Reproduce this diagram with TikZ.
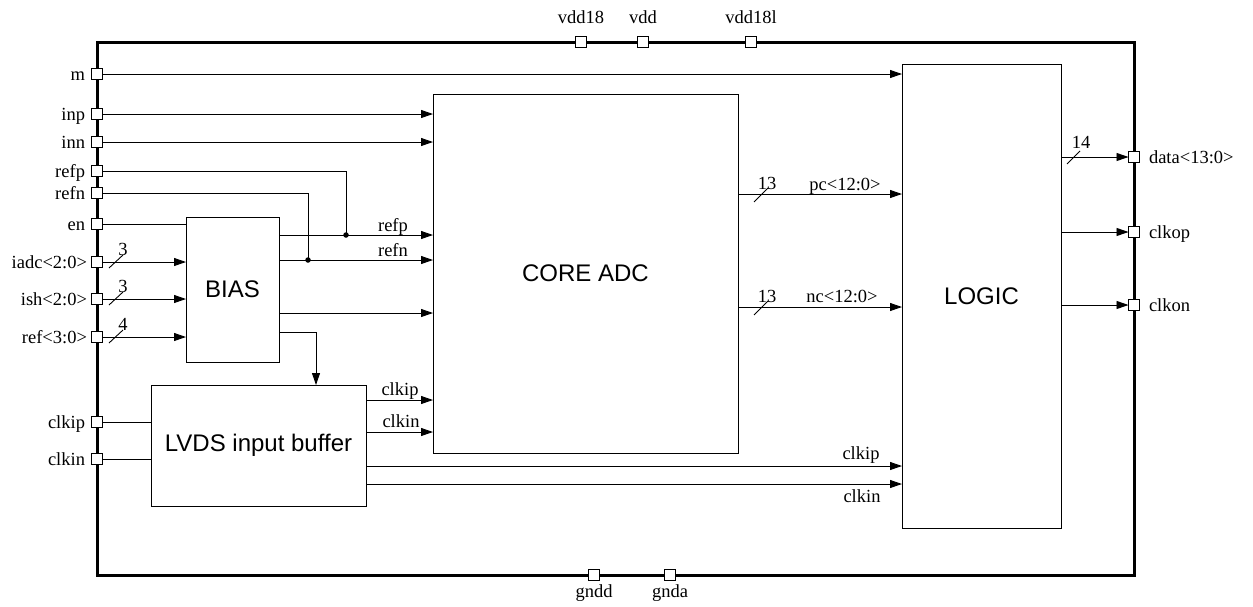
\documentclass[tikz,border=0pt]{standalone}
\usepackage{fontspec}
\setmainfont{Liberation Serif}
\newfontfamily\blkfont{Liberation Sans}
\usetikzlibrary{arrows.meta,calc}
\tikzset{
  port/.style={draw, fill=white, line width=0.9pt, minimum size=11pt, inner sep=0pt, outer sep=0pt},
  blk/.style={draw, line width=0.9pt, inner sep=0pt, outer sep=0pt, align=center, font=\blkfont\fontsize{24}{28}\selectfont},
  wire/.style={line width=0.9pt},
  arr/.style={wire, -{Triangle[length=12pt,width=8pt]}},
  lbl/.style={font=\fontsize{18.5}{20}\selectfont, inner sep=0pt, outer sep=0pt},
  lleft/.style={lbl, anchor=base east},
  lright/.style={lbl, anchor=base west},
  lmid/.style={lbl, anchor=base},
  jdot/.style={circle, fill, inner sep=0pt, minimum size=5.5pt},
}
\begin{document}
\begin{tikzpicture}[x=1pt,y=-1pt]
\useasboundingbox (0,0) rectangle (1253,606);
% chip frame
\node[draw, line width=3pt, minimum width=1037pt, minimum height=533pt, inner sep=0pt, outer sep=0pt] (chip) at (615.5,308.5) {};
% blocks
\node[blk, minimum width=93pt, minimum height=145pt] (bias) at (232.5,289.5) {BIAS};
\node[blk, minimum width=215pt, minimum height=121pt] (lvds) at (258.5,445.5) {LVDS input buffer};
\node[blk, minimum width=305pt, minimum height=359pt] (core) at (585.5,273.5) {CORE ADC};
\node[blk, minimum width=159pt, minimum height=464pt] (logic) at (981.5,296) {LOGIC};
% left ports
\node[port] (pm) at (97,74) {};
\node[port] (pinp) at (97,114) {};
\node[port] (pinn) at (97,142) {};
\node[port] (prefp) at (97,171) {};
\node[port] (prefn) at (97,193) {};
\node[port] (pen) at (97,224) {};
\node[port] (piadc) at (97,262) {};
\node[port] (pish) at (97,299) {};
\node[port] (pref) at (97,337) {};
\node[port] (pclkip) at (97,422) {};
\node[port] (pclkin) at (97,459) {};
% top / bottom ports
\node[port] (pvdd18) at (581,42) {};
\node[port] (pvdd) at (643,42) {};
\node[port] (pvdd18l) at (751,42) {};
\node[port] (pgndd) at (594,575) {};
\node[port] (pgnda) at (670,575) {};
% right ports
\node[port] (pdata) at (1134,157) {};
\node[port] (pclkop) at (1134,232) {};
\node[port] (pclkon) at (1134,305) {};
% port labels
\node[lleft] (tm) at (85,80) {m};
\node[lleft] (tinp) at (85,120) {inp};
\node[lleft] (tinn) at (85,148) {inn};
\node[lleft] (trefp) at (85,177) {refp};
\node[lleft] (trefn) at (85,199) {refn};
\node[lleft] (ten) at (85,230) {en};
\node[lleft] (tiadc) at (87,268) {iadc<2:0>};
\node[lleft] (tish) at (87,305) {ish<2:0>};
\node[lleft] (tref) at (87,343) {ref<3:0>};
\node[lleft] (tclkip) at (85,428) {clkip};
\node[lleft] (tclkin) at (85,465) {clkin};
\node[lmid] (tvdd18) at (581,23) {vdd18};
\node[lmid] (tvdd) at (643,23) {vdd};
\node[lmid] (tvdd18l) at (751,23) {vdd18l};
\node[lmid] (tgndd) at (594,597) {gndd};
\node[lmid] (tgnda) at (670,597) {gnda};
\node[lright] (tdata) at (1149,163) {data<13:0>};
\node[lright] (tclkop) at (1149,238) {clkop};
\node[lright] (tclkon) at (1149,311) {clkon};
% input wires
\draw[arr] (pm.east) -- (logic.west |- pm.east);
\draw[arr] (pinp.east) -- (core.west |- pinp.east);
\draw[arr] (pinn.east) -- (core.west |- pinn.east);
\coordinate (jp) at (346,235);
\coordinate (jn) at (308,260);
\draw[wire] (prefp.east) -| (jp);
\draw[wire] (prefn.east) -| (jn);
\node[jdot] (djp) at (jp) {};
\node[jdot] (djn) at (jn) {};
\draw[wire] (pen.east) -- (bias.west |- pen.east);
\draw[arr] (piadc.east) -- (bias.west |- piadc.east);
\draw[arr] (pish.east) -- (bias.west |- pish.east);
\draw[arr] (pref.east) -- (bias.west |- pref.east);
% bus slashes on BIAS inputs
\draw[wire] (109,268) -- (123,255);
\draw[wire] (109,305) -- (123,292);
\draw[wire] (109,343) -- (123,330);
\node[lmid] (n3a) at (123,255) {3};
\node[lmid] (n3b) at (123,292) {3};
\node[lmid] (n4) at (123,330) {4};
% BIAS outputs
\draw[arr] (bias.east |- jp) -- (core.west |- jp);
\draw[arr] (bias.east |- jn) -- (core.west |- jn);
\node[lmid] (lrefp) at (393,231) {refp};
\node[lmid] (lrefn) at (393,256) {refn};
\coordinate (b3) at (279,313);
\draw[arr] (bias.east |- b3) -- (core.west |- b3);
\coordinate (b4) at (316,332);
\draw[arr] (bias.east |- b4) -- (b4) -- (b4 |- lvds.north);
% LVDS
\draw[wire] (pclkip.east) -- (lvds.west |- pclkip.east);
\draw[wire] (pclkin.east) -- (lvds.west |- pclkin.east);
\coordinate (c1) at (366,400);
\coordinate (c2) at (366,432);
\coordinate (c3) at (366,466);
\coordinate (c4) at (366,484);
\draw[arr] (lvds.east |- c1) -- (core.west |- c1);
\draw[arr] (lvds.east |- c2) -- (core.west |- c2);
\draw[arr] (lvds.east |- c3) -- (logic.west |- c3);
\draw[arr] (lvds.east |- c4) -- (logic.west |- c4);
\node[lmid] (lc1) at (400,395) {clkip};
\node[lmid] (lc2) at (401,427) {clkin};
\node[lmid] (lc3) at (861,459) {clkip};
\node[lmid] (lc4) at (862,502) {clkin};
% CORE outputs
\coordinate (pc) at (738,194);
\coordinate (nc) at (738,307);
\draw[arr] (core.east |- pc) -- (logic.west |- pc);
\draw[arr] (core.east |- nc) -- (logic.west |- nc);
\draw[wire] (754,202) -- (768,188);
\draw[wire] (754,315) -- (768,301);
\node[lmid] (n13a) at (767,189) {13};
\node[lmid] (n13b) at (767,302) {13};
\node[lmid] (lpc) at (845,190) {pc<12:0>};
\node[lmid] (lnc) at (842,302) {nc<12:0>};
% LOGIC outputs
\draw[arr] (logic.east |- pdata.west) -- (pdata.west);
\draw[arr] (logic.east |- pclkop.west) -- (pclkop.west);
\draw[arr] (logic.east |- pclkon.west) -- (pclkon.west);
\draw[wire] (1067,164) -- (1080,151);
\node[lmid] (n14) at (1081,148) {14};
\end{tikzpicture}
\end{document}
